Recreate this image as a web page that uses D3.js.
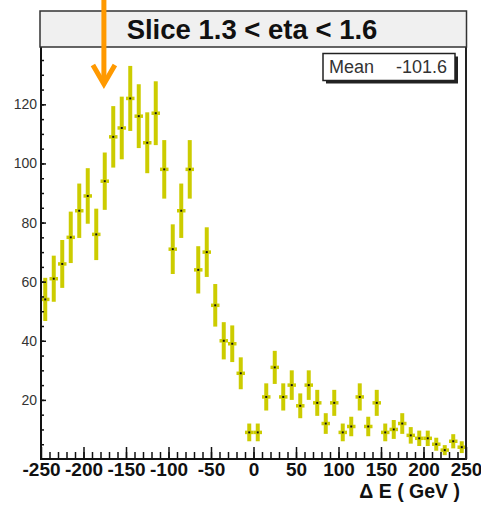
<!DOCTYPE html>
<html>
<head>
<meta charset="utf-8">
<script src="https://cdn.jsdelivr.net/npm/d3@7"></script>
<style>
body { margin: 0; background: #fff; }
text { font-family: "Liberation Sans", Arial, Helvetica, sans-serif; }
</style>
</head>
<body>
<div id="chart"></div>
<script>
// bin centres (GeV), 10 GeV bins
var binCenters = [-245, -235, -225, -215, -205, -195, -185, -175, -165, -155,
    -145, -135, -125, -115, -105, -95, -85, -75, -65, -55,
    -45, -35, -25, -15, -5, 5, 15, 25, 35, 45,
    55, 65, 75, 85, 95, 105, 115, 125, 135, 145,
    155, 165, 175, 185, 195, 205, 215, 225, 235, 245]
var counts = [54, 61, 66, 75, 84, 89, 76, 94, 109, 112,
    122, 116, 107, 117, 98, 71, 84, 98, 64, 70,
    52, 40, 39, 29, 9, 9, 21, 31, 21, 25,
    18, 25, 19, 12, 19, 9, 11, 21, 11, 19,
    9, 10, 12, 8, 7, 7, 5, 3, 6, 4]
var errors = [7.3, 7.8, 8.1, 8.7, 9.2, 9.4, 8.7, 9.7, 10.4, 10.6,
    11.0, 10.8, 10.3, 10.8, 9.9, 8.4, 9.2, 9.9, 8.0, 8.4,
    7.2, 6.3, 6.2, 5.4, 3.0, 3.0, 4.6, 5.6, 4.6, 5.0,
    4.2, 5.0, 4.4, 3.5, 4.4, 3.0, 3.3, 4.6, 3.3, 4.4,
    3.0, 3.2, 3.5, 2.8, 2.6, 2.6, 2.2, 1.7, 2.4, 2.0]
var binWidth = 10
var xTicks = [-250, -200, -150, -100, -50, 0, 50, 100, 150, 200, 250]
var yTicks = [20, 40, 60, 80, 100, 120]
var titleText = "Slice 1.3 < eta < 1.6"
var meanLabel = "Mean"
var meanValue = "-101.6"
var xTitle = "\u0394 E ( GeV )"
var arrowAt = -176

var width = 481, height = 505
// note: "top" clashes with window.top, so prefix everything
var pLeft = 41, pRight = 466, pTop = 47, pBottom = 459

var svg = d3.select("#chart").append("svg")
    .attr("width", width)
    .attr("height", height)

var x = d3.scaleLinear().domain([-250, 250]).range([pLeft, pRight])
var y = d3.scaleLinear().domain([0, 139.4]).range([pBottom, pTop])

var yellow = "#cccc00"

// error bars
var pts = svg.append("g").attr("class", "points")
binCenters.forEach(function (c, i) {
    var g = pts.append("g")
    g.append("line")
        .attr("x1", x(c)).attr("x2", x(c))
        .attr("y1", y(counts[i] - errors[i])).attr("y2", y(counts[i] + errors[i]))
        .attr("stroke", yellow).attr("stroke-width", 4)
    g.append("line")
        .attr("x1", x(c - binWidth / 2)).attr("x2", x(c + binWidth / 2))
        .attr("y1", y(counts[i])).attr("y2", y(counts[i]))
        .attr("stroke", yellow).attr("stroke-width", 3.5)
    g.append("rect")
        .attr("x", x(c) - 1).attr("y", y(counts[i]) - 1)
        .attr("width", 2).attr("height", 2)
        .attr("fill", "#111")
})

// minor ticks
svg.append("g")
    .attr("transform", "translate(" + pLeft + ",0)")
    .call(d3.axisLeft(y).tickValues(d3.range(5, 139, 5)).tickSizeInner(-3).tickSizeOuter(0).tickFormat(""))
svg.append("g")
    .attr("transform", "translate(0," + pBottom + ")")
    .call(d3.axisBottom(x).tickValues(d3.range(-240, 250, 10)).tickSizeInner(-7).tickSizeOuter(0).tickFormat(""))

// major ticks + labels
var yAxis = svg.append("g")
    .attr("transform", "translate(" + pLeft + ",0)")
    .call(d3.axisLeft(y).tickValues(yTicks).tickSizeInner(-5).tickSizeOuter(0).tickPadding(4))
yAxis.selectAll("text").attr("font-size", 14).attr("fill", "#333")
    .style("font-family", "'Liberation Sans', Arial, sans-serif")

var xAxis = svg.append("g")
    .attr("transform", "translate(0," + pBottom + ")")
    .call(d3.axisBottom(x).tickValues(xTicks).tickSizeInner(-12).tickSizeOuter(0).tickPadding(3)
        .tickFormat(function (d) { return String(d) }))
xAxis.selectAll("text").attr("font-size", 19).attr("font-weight", "bold").attr("fill", "#111")
    .style("font-family", "'Liberation Sans', Arial, sans-serif")

svg.selectAll(".domain").remove()
svg.selectAll(".tick line").attr("stroke", "#111").attr("stroke-width", 1.5)

// frame
svg.append("line").attr("x1", pLeft).attr("x2", pLeft).attr("y1", pTop).attr("y2", pBottom + 1)
    .attr("stroke", "#111").attr("stroke-width", 2)
svg.append("line").attr("x1", pLeft - 1).attr("x2", pRight).attr("y1", pBottom).attr("y2", pBottom)
    .attr("stroke", "#111").attr("stroke-width", 2)
svg.append("line").attr("x1", pRight).attr("x2", pRight).attr("y1", pTop).attr("y2", pBottom + 1)
    .attr("stroke", "#222").attr("stroke-width", 2)

// title box
svg.append("rect").attr("x", 40).attr("y", 11).attr("width", 426.5).attr("height", 36)
    .attr("fill", "#f0f0f0").attr("stroke", "#333").attr("stroke-width", 1.5)
svg.append("text").attr("x", 252).attr("y", 38.5).attr("text-anchor", "middle")
    .attr("font-size", 27.5).attr("font-weight", "bold").attr("fill", "#111")
    .text(titleText)

// stats box
svg.append("rect").attr("x", 326).attr("y", 56.5).attr("width", 132).attr("height", 27).attr("fill", "#222")
svg.append("rect").attr("x", 323).attr("y", 53.5).attr("width", 132).attr("height", 27)
    .attr("fill", "#fff").attr("stroke", "#222").attr("stroke-width", 1.5)
svg.append("text").attr("x", 329).attr("y", 72.5).attr("font-size", 18).attr("fill", "#333").text(meanLabel)
svg.append("text").attr("x", 447).attr("y", 72.5).attr("text-anchor", "end")
    .attr("font-size", 18).attr("fill", "#333").text(meanValue)

// x title
svg.append("text").attr("x", 460).attr("y", 498).attr("text-anchor", "end")
    .attr("font-size", 19.5).attr("font-weight", "bold").attr("fill", "#111")
    .text(xTitle)

// orange arrow
var ax = x(arrowAt)
svg.append("line").attr("x1", ax).attr("x2", ax).attr("y1", 0).attr("y2", 82)
    .attr("stroke", "#ff9900").attr("stroke-width", 5)
svg.append("path")
    .attr("d", "M" + (ax - 11) + ",65 L" + ax + ",84 L" + (ax + 11) + ",65")
    .attr("fill", "none").attr("stroke", "#ff9900").attr("stroke-width", 5)
    .attr("stroke-linejoin", "miter")
</script>
</body>
</html>
